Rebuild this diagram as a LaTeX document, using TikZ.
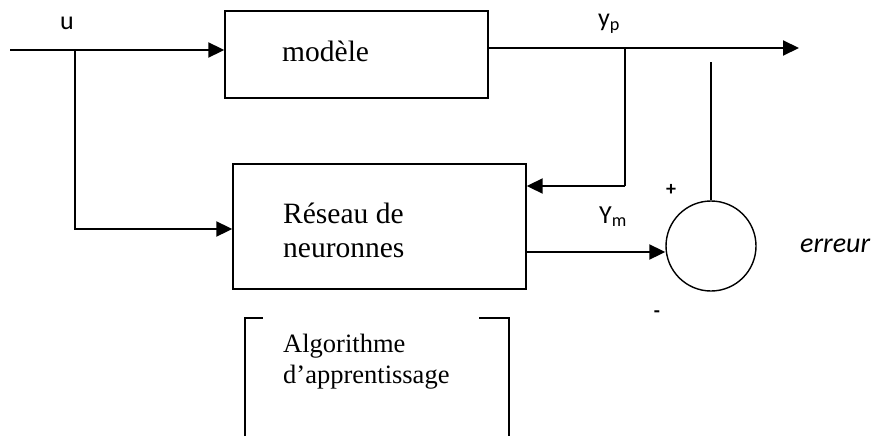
\documentclass[tikz,border=0pt]{standalone}
\usepackage{fontspec}
\setmainfont{Liberation Serif}
\newfontfamily\calib{Carlito}
\usetikzlibrary{arrows.meta}

\begin{document}
\begin{tikzpicture}[x=1pt,y=-1pt,
  box/.style={draw, line width=1.4pt, inner sep=0pt},
  wire/.style={line width=1.5pt},
  arr/.style={line width=2pt, -{Triangle[length=16pt,width=15pt]}},
  serif/.style={font=\fontsize{29.5}{34}\selectfont, inner sep=0pt, anchor=base west},
  serifsmall/.style={font=\fontsize{26.5}{31}\selectfont, inner sep=0pt, anchor=base west},
  sans/.style={font=\calib\fontsize{26}{30}\selectfont, inner sep=0pt},
  sign/.style={font=\calib\bfseries\fontsize{20}{24}\selectfont, inner sep=0pt},
]
\useasboundingbox (0,0) rectangle (874,436);

% blocks
\node[box, minimum width=263pt, minimum height=87pt] (modele) at (356.5,54.5) {};
\node[box, minimum width=293pt, minimum height=125pt] (reseau) at (379.5,226.5) {};
\node[box, circle, minimum size=90pt] (err) at (711,246) {};

% block texts
\node[serif] (tmodele) at (282,61) {modèle};
\node[serif] (treseau1) at (283,223) {Réseau de};
\node[serif] (treseau2) at (283,257) {neuronnes};
\node[serifsmall] (talgo1) at (283,352) {Algorithme};
\node[serifsmall] (talgo2) at (283,383) {d’apprentissage};

% learning algorithm frame (open at the bottom, gap in the top edge)
\draw[wire] (245,436) -- (245,318) -- (263,318);
\draw[wire] (479,318) -- (509,318) -- (509,436);

% signal points
\coordinate (uin) at (10,50);
\coordinate (ubr) at (75,50);
\coordinate (rin) at (233,229);
\coordinate (yout) at (799,48);
\coordinate (ybr) at (625,48);
\coordinate (yfb) at (625,186);
\coordinate (etop) at (711,62);
\coordinate (rout) at (526,252);

% connectors
\draw[arr] (uin) -- (uin -| modele.west);
\draw[arr] (ubr) |- (rin -| reseau.west);
\draw[arr] (modele.east |- yout) -- (yout);
\draw[wire] (ybr) -- (yfb);
\draw[arr] (yfb) -- (yfb -| reseau.east);
\draw[wire] (etop) -- (err.north);
\draw[arr] (rout) -- (err.west |- rout);

% signal labels
\node[sans, anchor=base] (lu) at (67,30) {u};
\node[sans, anchor=base west] (lyp) at (598,27) {y\textsubscript{p}};
\node[sans, anchor=base west] (lym) at (599,223) {Y\textsubscript{m}};
\node[sign] (lplus) at (671,190) {+};
\node[sign] (lminus) at (657,314) {-};
\node[font=\calib\itshape\fontsize{28}{32}\selectfont, inner sep=0pt, anchor=base west] (lerr) at (800,252) {erreur};
\end{tikzpicture}
\end{document}
